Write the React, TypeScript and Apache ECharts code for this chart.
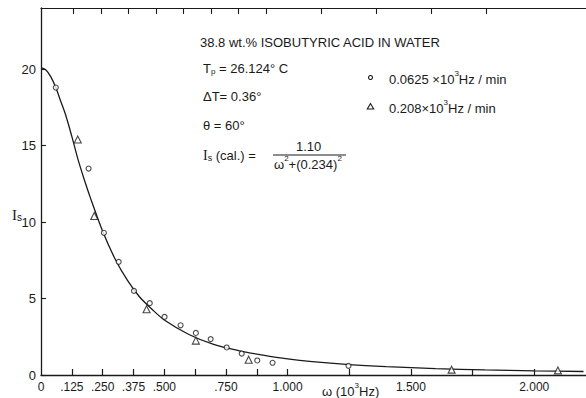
import React, { useEffect, useRef } from "react";
import * as echarts from "echarts";

// x axis (omega, 10^3 Hz)
const xTickValues = [0.125, 0.25, 0.375, 0.5, 0.625, 0.75, 0.875, 1, 1.25, 1.5, 1.75, 2];
const xLabelValues = [0, 0.125, 0.25, 0.375, 0.5, 0.75, 1, 1.5, 2];
const xLabelTexts = ["0", ".125", ".250", ".375", ".500", ".750", "1.000", "1.500", "2.000"];
const yTickValues = [0, 5, 10, 15, 20];

// 0.0625 x10^3 Hz/min (circles)
const circleOmega = [0.06, 0.193, 0.255, 0.315, 0.377, 0.441, 0.501, 0.566, 0.628, 0.688, 0.753, 0.814, 0.877, 0.939, 1.247];
const circleIs = [18.8, 13.5, 9.3, 7.4, 5.5, 4.7, 3.8, 3.25, 2.75, 2.35, 1.8, 1.4, 0.95, 0.8, 0.6];

// 0.208 x10^3 Hz/min (triangles)
const triangleOmega = [0.149, 0.216, 0.428, 0.628, 0.842, 1.665, 2.096];
const triangleIs = [15.4, 10.4, 4.3, 2.25, 1.0, 0.35, 0.3];

// calculated curve
const curveOmega = [0, 0.02, 0.04, 0.06, 0.08, 0.1, 0.125, 0.15, 0.175, 0.2, 0.25, 0.3, 0.35, 0.4, 0.45, 0.5, 0.6, 0.7, 0.8, 0.9, 1.0, 1.1, 1.25, 1.4, 1.6, 1.8, 2.0, 2.2];
const curveIs = [20.1, 19.95, 19.5, 18.8, 17.9, 17.0, 15.6, 14.1, 12.8, 11.6, 9.4, 7.6, 6.2, 5.1, 4.3, 3.6, 2.65, 2.0, 1.6, 1.3, 1.05, 0.87, 0.68, 0.55, 0.42, 0.33, 0.27, 0.23];

const INK = "#1a1a1a";
const FONT = "'Liberation Sans', Arial, sans-serif";

export default function App() {
  const ref = useRef<HTMLDivElement>(null);
  useEffect(() => {
    if (!ref.current) return;
    const chart = echarts.init(ref.current, null, { renderer: "svg" });
    const zip = (a: number[], b: number[]) => a.map((v, i) => [v, b[i]]);
    const txt = { fontFamily: FONT, fontSize: 13, fill: INK };
    const base = { fontFamily: FONT, fontSize: 13, fill: INK, verticalAlign: "bottom", lineHeight: 17 };
    const sup = { fontFamily: FONT, fontSize: 8, fill: INK, verticalAlign: "top", lineHeight: 17 };
    chart.setOption({
      animation: false,
      backgroundColor: "#ffffff",
      grid: { left: 41, top: 8, right: 0, bottom: 23 },
      xAxis: [
        {
          type: "value",
          min: 0,
          max: 2.21,
          position: "bottom",
          splitLine: { show: false },
          axisLine: { lineStyle: { color: INK, width: 1.3 } },
          axisTick: { inside: true, length: 6, customValues: xTickValues, lineStyle: { color: INK, width: 1.2 } },
          axisLabel: {
            customValues: xLabelValues,
            margin: 6,
            color: INK,
            fontFamily: FONT,
            fontSize: 12,
            formatter: (v: number) => {
              const i = xLabelValues.findIndex((x) => Math.abs(x - v) < 1e-6);
              return i >= 0 ? xLabelTexts[i] : "";
            },
          },
        },
        {
          type: "value",
          min: -0.0227,
          max: 2.455,
          position: "top",
          splitLine: { show: false },
          axisLine: { lineStyle: { color: INK, width: 1.2 } },
          axisTick: { inside: true, length: 6, customValues: xTickValues, lineStyle: { color: INK, width: 1.1 } },
          axisLabel: { show: false },
        },
      ],
      yAxis: {
        type: "value",
        min: 0,
        max: 24,
        splitLine: { show: false },
        axisLine: { show: true, lineStyle: { color: INK, width: 1.3 } },
        axisTick: { show: true, inside: true, length: 5, customValues: yTickValues, lineStyle: { color: INK, width: 1.1 } },
        axisLabel: { customValues: yTickValues, margin: 5, color: INK, fontFamily: FONT, fontSize: 13 },
      },
      series: [
        {
          type: "line",
          data: zip(curveOmega, curveIs),
          smooth: 0.3,
          showSymbol: false,
          lineStyle: { color: INK, width: 1.3 },
          z: 2,
        },
        {
          type: "scatter",
          data: zip(circleOmega, circleIs),
          symbol: "circle",
          symbolSize: 5,
          itemStyle: { color: "#ffffff", borderColor: INK, borderWidth: 1.1 },
          z: 3,
        },
        {
          type: "scatter",
          data: zip(triangleOmega, triangleIs),
          symbol: "triangle",
          symbolSize: 7,
          itemStyle: { color: "#ffffff", borderColor: INK, borderWidth: 1.1 },
          z: 3,
        },
      ],
      graphic: [
        { type: "text", left: 200, top: 36, style: { ...txt, text: "38.8 wt.% ISOBUTYRIC ACID IN WATER" } },
        {
          type: "text", left: 203, top: 62,
          style: {
            ...txt,
            text: "{a|T}{s|p}{a| = 26.124° C}",
            rich: { a: base, s: { fontFamily: FONT, fontSize: 8, fill: INK, verticalAlign: "bottom", lineHeight: 13 } },
          },
        },
        { type: "text", left: 203, top: 90, style: { ...txt, text: "ΔT= 0.36°" } },
        { type: "text", left: 203, top: 119, style: { ...txt, text: "θ = 60°" } },
        {
          type: "text", left: 203, top: 148,
          style: {
            ...txt,
            text: "{i|I}{s|s}{a| (cal.) =}",
            rich: {
              i: { fontFamily: "'Liberation Serif', serif", fontSize: 14, fill: INK, verticalAlign: "bottom", lineHeight: 17 },
              s: { fontFamily: FONT, fontSize: 9, fill: INK, verticalAlign: "bottom", lineHeight: 12 },
              a: base,
            },
          },
        },
        { type: "text", left: 296, top: 140, style: { ...txt, text: "1.10" } },
        { type: "line", shape: { x1: 273, y1: 155, x2: 346, y2: 155 }, style: { stroke: INK, lineWidth: 1 } },
        {
          type: "text", left: 274, top: 154,
          style: { ...txt, text: "{a|ω}{p|2}{a|+(0.234)}{p|2}", rich: { a: base, p: sup } },
        },
        { type: "circle", shape: { cx: 370.5, cy: 77.5, r: 2 }, style: { fill: "#fff", stroke: INK, lineWidth: 1.1 } },
        {
          type: "text", left: 389, top: 69,
          style: { ...txt, text: "{a|0.0625 ×10}{p|3}{a|Hz / min}", rich: { a: base, p: sup } },
        },
        { type: "polygon", shape: { points: [[370.5, 103.5], [367.3, 109], [373.7, 109]] }, style: { fill: "#fff", stroke: INK, lineWidth: 1.1 } },
        {
          type: "text", left: 389, top: 98,
          style: { ...txt, text: "{a|0.208×10}{p|3}{a|Hz / min}", rich: { a: base, p: sup } },
        },
        {
          type: "text", left: 12, top: 207,
          style: {
            text: "{i|I}{s|s}",
            rich: {
              i: { fontFamily: "'Liberation Serif', serif", fontSize: 15, fill: INK, verticalAlign: "bottom", lineHeight: 18 },
              s: { fontFamily: FONT, fontSize: 10, fill: INK, verticalAlign: "bottom", lineHeight: 12 },
            },
          },
        },
        {
          type: "text", left: 322, top: 381,
          style: { text: "{a|ω (10}{p|3}{a|Hz)}", rich: { a: base, p: sup } },
        },
      ],
    });
    return () => chart.dispose();
  }, []);
  return <div ref={ref} style={{ width: 586, height: 398, position: "fixed", left: 0, top: 0 }} />;
}
